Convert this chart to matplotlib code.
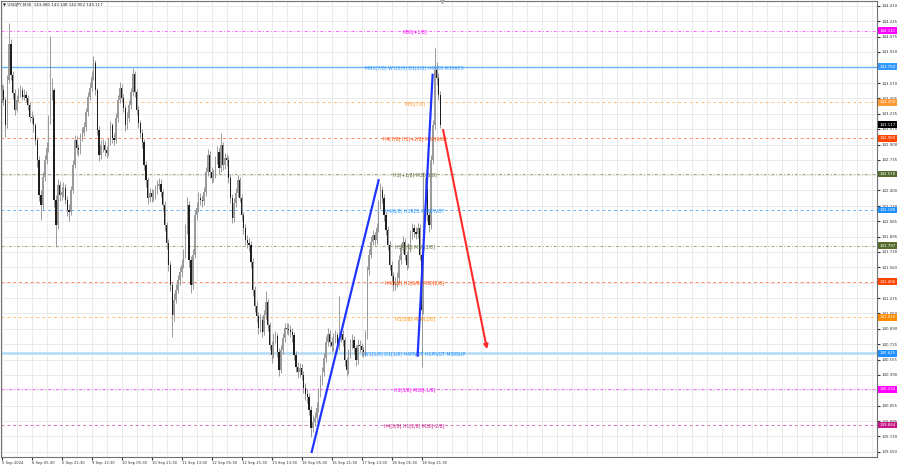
import matplotlib
matplotlib.use('Agg')
import matplotlib.pyplot as plt
import matplotlib.transforms as mtransforms
import numpy as np

symbol = 'USDJPY,M30'
ohlc_head = '143.080 143.148 142.952 143.117'
current_price = 143.117

# H1-sized candles (open = previous close)
first_open = 143.40
closes = [
    143.49, 143.39, 143.11, 143.60, 143.99, 143.66, 143.46, 143.28,
    143.39, 143.46, 143.49, 143.42, 143.44, 143.41, 143.33, 143.20,
    143.19, 143.11, 142.95, 142.73, 142.35, 142.24, 142.55, 142.73,
    142.86, 143.17, 143.44, 143.49, 142.30, 142.02, 142.46, 142.35,
    142.38, 142.43, 142.30, 142.19, 142.17, 142.40, 142.68, 142.95,
    142.86, 142.84, 142.98, 143.03, 143.09, 143.25, 143.42, 143.52,
    143.64, 143.79, 143.49, 143.06, 142.79, 142.89, 142.90, 142.84,
    142.81, 142.92, 143.11, 142.97, 142.95, 143.19, 143.39, 143.52,
    143.41, 143.30, 143.11, 143.19, 143.33, 143.47, 143.67, 143.47,
    143.28, 143.13, 143.03, 142.93, 142.68, 142.51, 142.32, 142.37,
    142.33, 142.35, 142.40, 142.45, 142.47, 142.38, 142.24, 142.02,
    141.83, 141.59, 141.37, 141.04, 141.21, 141.32, 141.42, 141.51,
    141.59, 141.70, 141.97, 142.24, 141.64, 141.37, 141.70, 142.13,
    142.21, 142.32, 142.30, 142.28, 142.38, 142.60, 142.79, 142.60,
    142.54, 142.57, 142.73, 142.82, 142.64, 142.89, 142.68, 142.75,
    142.73, 142.54, 142.32, 142.10, 142.26, 142.37, 142.51, 142.32,
    142.13, 141.99, 141.86, 141.83, 141.81, 141.62, 141.32, 141.14,
    141.03, 140.90, 140.99, 140.86, 141.04, 141.18, 140.93, 140.72,
    140.61, 140.79, 140.81, 140.64, 140.44, 140.66, 140.79, 140.90,
    140.89, 140.88, 140.86, 140.82, 140.61, 140.48, 140.42, 140.46,
    140.39, 140.25, 140.18, 140.15, 140.01, 139.81, 139.88, 139.92,
    140.03, 140.19, 140.33, 140.42, 140.57, 140.75, 140.84, 140.75,
    140.70, 140.79, 140.82, 140.70, 140.79, 140.84, 140.77, 140.55,
    140.44, 140.61, 140.72, 140.77, 140.68, 140.55, 140.72, 140.70,
    140.66, 140.64, 140.82, 141.53, 141.70, 141.84, 141.91, 141.86,
    141.99, 142.24, 142.40, 142.32, 142.13, 141.97, 141.81, 141.59,
    141.47, 141.37, 141.40, 141.45, 141.64, 141.77, 141.84, 141.70,
    141.59, 141.77, 141.91, 141.99, 141.95, 141.93, 141.99, 141.70,
    141.10, 142.40, 142.42, 142.13, 142.02, 142.73, 143.11, 143.71,
    143.63, 143.44, 143.117]
highs = [
    143.56, 143.55, 143.42, 143.66, 144.22, 144.05, 143.70, 143.50,
    143.44, 143.52, 143.55, 143.53, 143.50, 143.48, 143.44, 143.36,
    143.26, 143.22, 143.14, 142.98, 142.77, 142.40, 142.60, 142.79,
    142.93, 143.22, 144.08, 143.62, 143.52, 142.35, 142.52, 142.50,
    142.44, 142.49, 142.47, 142.34, 142.25, 142.45, 142.73, 143.00,
    142.99, 142.91, 143.03, 143.09, 143.15, 143.30, 143.47, 143.58,
    143.70, 143.86, 143.82, 143.52, 143.10, 142.95, 142.96, 142.94,
    142.88, 142.97, 143.16, 143.14, 143.03, 143.24, 143.44, 143.58,
    143.56, 143.45, 143.33, 143.25, 143.38, 143.52, 143.73, 143.70,
    143.50, 143.32, 143.17, 143.07, 142.96, 142.72, 142.55, 142.43,
    142.42, 142.41, 142.46, 142.51, 142.53, 142.52, 142.42, 142.28,
    142.06, 141.87, 141.63, 141.40, 141.28, 141.38, 141.48, 141.57,
    141.65, 141.76, 142.03, 142.33, 142.28, 141.68, 141.76, 142.19,
    142.27, 142.38, 142.37, 142.35, 142.44, 142.66, 142.85, 142.83,
    142.65, 142.63, 142.78, 142.88, 142.86, 143.03, 142.93, 142.81,
    142.80, 142.77, 142.58, 142.36, 142.32, 142.43, 142.57, 142.55,
    142.36, 142.17, 142.03, 141.91, 141.88, 141.85, 141.66, 141.36,
    141.19, 141.07, 141.05, 141.03, 141.10, 141.30, 141.22, 140.97,
    140.76, 140.85, 140.87, 140.85, 140.68, 140.72, 140.85, 140.96,
    140.96, 140.95, 140.93, 140.90, 140.86, 140.65, 140.53, 140.52,
    140.51, 140.43, 140.30, 140.24, 140.19, 140.05, 139.95, 139.99,
    140.09, 140.25, 140.39, 140.48, 140.63, 140.81, 140.90, 140.88,
    140.80, 140.85, 140.88, 140.86, 141.25, 140.90, 140.88, 140.80,
    140.59, 140.67, 140.78, 140.83, 140.81, 140.72, 140.78, 140.77,
    140.74, 140.71, 140.88, 141.58, 141.76, 141.90, 141.97, 141.95,
    142.05, 142.30, 142.48, 142.45, 142.36, 142.17, 142.01, 141.85,
    141.63, 141.51, 141.46, 141.51, 141.70, 141.83, 141.90, 141.88,
    141.74, 141.83, 141.97, 142.05, 142.03, 142.00, 142.05, 142.03,
    141.74, 142.60, 142.55, 142.46, 142.18, 142.79, 143.17, 143.95,
    143.80, 143.68, 143.48]
lows = [
    143.36, 143.33, 142.98, 143.08, 143.57, 143.60, 143.40, 143.22,
    143.25, 143.36, 143.42, 143.38, 143.39, 143.36, 143.28, 143.15,
    143.13, 143.04, 142.90, 142.66, 142.28, 142.08, 142.20, 142.50,
    142.69, 142.82, 143.12, 143.38, 142.22, 141.78, 141.98, 142.28,
    142.30, 142.33, 142.25, 142.12, 142.07, 142.13, 142.37, 142.64,
    142.80, 142.78, 142.80, 142.94, 142.99, 143.05, 143.21, 143.38,
    143.48, 143.60, 143.44, 143.00, 142.72, 142.74, 142.82, 142.78,
    142.75, 142.77, 142.89, 142.92, 142.90, 142.92, 143.15, 143.35,
    143.36, 143.25, 143.05, 143.07, 143.15, 143.29, 143.43, 143.42,
    143.22, 143.08, 142.97, 142.86, 142.62, 142.44, 142.25, 142.27,
    142.27, 142.29, 142.31, 142.36, 142.41, 142.33, 142.18, 141.96,
    141.76, 141.52, 141.30, 140.80, 140.98, 141.17, 141.28, 141.37,
    141.46, 141.55, 141.66, 141.93, 141.57, 141.28, 141.33, 141.66,
    142.08, 142.17, 142.24, 142.22, 142.24, 142.34, 142.56, 142.54,
    142.48, 142.49, 142.53, 142.69, 142.58, 142.60, 142.62, 142.63,
    142.67, 142.48, 142.26, 142.04, 142.06, 142.22, 142.33, 142.27,
    142.07, 141.93, 141.80, 141.77, 141.74, 141.55, 141.25, 141.08,
    140.97, 140.84, 140.86, 140.80, 140.82, 141.00, 140.87, 140.66,
    140.52, 140.57, 140.74, 140.58, 140.38, 140.41, 140.62, 140.75,
    140.83, 140.82, 140.80, 140.75, 140.55, 140.42, 140.36, 140.37,
    140.33, 140.19, 140.12, 140.08, 139.95, 139.71, 139.77, 139.83,
    139.88, 139.99, 140.15, 140.28, 140.38, 140.53, 140.70, 140.69,
    140.64, 140.65, 140.74, 140.64, 140.66, 140.75, 140.71, 140.49,
    140.38, 140.40, 140.57, 140.67, 140.62, 140.49, 140.51, 140.64,
    140.60, 140.58, 140.60, 140.78, 141.48, 141.66, 141.80, 141.80,
    141.82, 141.95, 142.20, 142.26, 142.07, 141.91, 141.75, 141.53,
    141.41, 141.30, 141.32, 141.35, 141.41, 141.60, 141.72, 141.64,
    141.53, 141.55, 141.73, 141.87, 141.89, 141.87, 141.88, 141.64,
    140.48, 141.05, 142.33, 142.07, 141.95, 141.98, 142.69, 143.07,
    143.55, 143.38, 143.08]

time_labels = ['5 Sep 2024', '6 Sep 05:30', '6 Sep 21:30', '9 Sep 13:30',
               '10 Sep 05:30', '10 Sep 21:30', '11 Sep 13:30', '12 Sep 05:30',
               '12 Sep 21:30', '13 Sep 13:30', '16 Sep 05:30', '16 Sep 21:30',
               '17 Sep 13:30', '18 Sep 05:30', '18 Sep 21:30']
bars_per_label = 16

price_ticks = [144.410, 144.245, 144.075, 143.910, 143.740, 143.570, 143.405,
               143.235, 143.070, 142.900, 142.735, 142.565, 142.400, 142.230,
               142.065, 141.895, 141.730, 141.560, 141.395, 141.225, 141.060,
               140.890, 140.725, 140.555, 140.390, 140.220, 140.055, 139.885,
               139.720, 139.550]
# tick labels that sit under a level box in the terminal
hidden_ticks = [143.740, 142.565, 141.395, 140.220]

# murrey levels
levels = [144.141, 143.750, 143.359, 142.969, 142.578, 142.188,
          141.797, 141.406, 141.016, 140.625, 140.234, 139.844]
level_names = ['M30[+1/8]',
               'MN1[7/8] W1[2/8] D1[2/8] H4RES M30RES',
               'M30[7/8]',
               'H4[7/8] H1[+2/8] M30[6/8]',
               'H1[+1/8] M30[5/8]',
               'H4[6/8] H1RES M30PIVOT',
               'H1[7/8] M30[3/8]',
               'H4[5/8] H1[6/8] M30[2/8]',
               'H1[5/8] M30[1/8]',
               'W1[1/8] D1[1/8] H4PIVOT H1PIVOT M30SUP',
               'H1[3/8] M30[-1/8]',
               'H4[3/8] H1[2/8] M30[-2/8]']
box_colors = ['#ff00ff', '#3399ff', '#ff9933', '#ff4500', '#556b2f', '#1e90ff',
              '#556b2f', '#ff4500', '#ff8c00', '#1e90ff', '#ff00ff', '#c71585']
line_colors = ['#ff66ff', '#66b3f5', '#ffc080', '#ff8a6a', '#9aa67a', '#66b0f5',
               '#9aa67a', '#ff8a6a', '#ffc080', '#b3dbf7', '#ff66ff', '#e070b8']
line_styles = [(0, (3, 2, 1, 2)), '-', (0, (3, 3)), (0, (3, 3)), (0, (3, 2, 1, 2)),
               (0, (3, 3)), (0, (3, 2, 1, 2)), (0, (3, 3)), (0, (3, 3)), '-',
               (0, (3, 2, 1, 2)), (0, (3, 3))]
line_widths = [0.7, 1.0, 0.7, 0.7, 0.7, 0.7, 0.7, 0.7, 0.7, 1.8, 0.7, 0.7]
label_bar = 220.3

# hand drawn lines (bar index, price)
blue1_x = [165.4, 201.1]
blue1_y = [139.55, 142.51]
blue2_x = [221.9, 229.9]
blue2_y = [140.60, 143.66]
red_x = [235.2, 259.2]
red_y = [143.09, 140.64]

n = len(closes)
assert len(highs) == n and len(lows) == n
opens = [first_open] + closes[:-1]
idx = np.arange(n)
o = np.array(opens)
c = np.array(closes)
bull = c >= o

fig = plt.figure(figsize=(9, 4.68), dpi=100)
ax = fig.add_axes([1 / 900, 11 / 468, 876 / 900, 456 / 468])
ax.set_xlim(-0.3, 466.9)
ax.set_ylim(139.495, 144.464)

# grid and axes
ax.set_xticks(np.arange(0, 468, 8), minor=True)
ax.set_xticks(np.arange(len(time_labels)) * bars_per_label)
ax.set_xticklabels(time_labels, ha='left')
ax.yaxis.tick_right()
ax.set_yticks(price_ticks)
ax.set_yticklabels(['' if p in hidden_ticks else '%.3f' % p for p in price_ticks])
ax.grid(True, which='both', color='#e8e8e8', lw=0.6, zorder=0)
ax.set_axisbelow(True)
ax.tick_params(axis='x', labelsize=2.7, length=2, pad=1.2, colors='#333333')
ax.tick_params(axis='y', labelsize=2.8, length=2, pad=1.5, colors='#333333')
ax.tick_params(axis='x', which='minor', length=0)
for s in ax.spines.values():
    s.set_color('#707070')
    s.set_linewidth(0.8)

# levels
for lv, nm, lc, ls, lw, bc in zip(levels, level_names, line_colors, line_styles,
                                  line_widths, box_colors):
    ax.axhline(lv, color=lc, ls=ls, lw=lw, zorder=1)
    ax.text(label_bar, lv - 0.01, nm, ha='center', va='center', fontsize=3.3,
            color=bc, zorder=4)

# candles
cols = np.where(bull, '#9a9a9a', '#1e1e1e')
ax.vlines(idx, lows, highs, colors='#8c8c8c', lw=0.6, zorder=2)
body = c - o
body = np.where(np.abs(body) < 0.006, 0.006, body)
ax.bar(idx, body, bottom=o, width=0.65, color=cols, edgecolor='none', zorder=3)

# chart shift marker at the top
ax.plot([idx[-1] + 1], [1.0], marker='v', ms=3, color='#b0b0b0',
        transform=mtransforms.blended_transform_factory(ax.transData, ax.transAxes),
        clip_on=False, zorder=6)

# drawn lines
ax.plot(blue1_x, blue1_y, color='#1f35ff', lw=1.6, zorder=5)
ax.plot(blue2_x, blue2_y, color='#1f35ff', lw=1.6, zorder=5)
ax.annotate('', xy=(red_x[1], red_y[1]), xytext=(red_x[0], red_y[0]),
            arrowprops=dict(arrowstyle='-|>', color='#ff2a2a', lw=1.5,
                            mutation_scale=6), zorder=5)

# price boxes on the right axis
trans = mtransforms.blended_transform_factory(ax.transAxes, ax.transData)
for lv, bc in zip(levels, box_colors):
    ax.text(1.0 + 2.5 / 876, lv, '%.3f' % lv, transform=trans, ha='left',
            va='center', fontsize=2.8, color='white', clip_on=False, zorder=6,
            bbox=dict(boxstyle='square,pad=0.35', fc=bc, ec='none'))
ax.text(1.0 + 2.5 / 876, current_price, '%.3f' % current_price, transform=trans,
        ha='left', va='center', fontsize=2.8, color='white', clip_on=False,
        zorder=6, bbox=dict(boxstyle='square,pad=0.35', fc='black', ec='none'))

fig.text(3 / 900, 1 - 5 / 468, '\u25bc ' + symbol + '  ' + ohlc_head,
         fontsize=2.9, va='center', ha='left', color='#222222')

fig.savefig('out.png', dpi=100)
